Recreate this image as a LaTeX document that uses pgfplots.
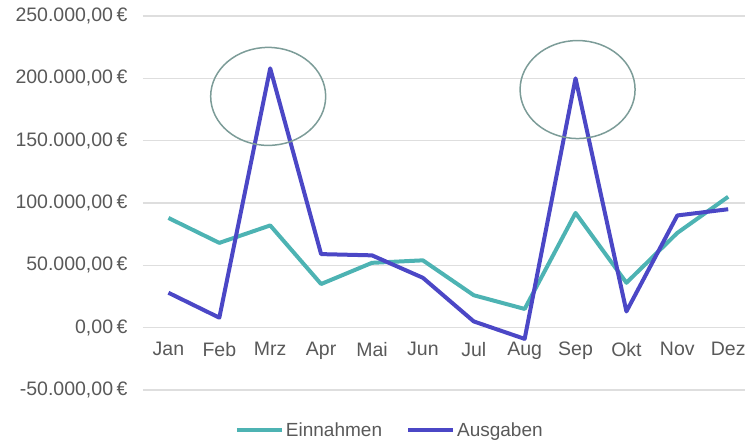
\documentclass[border=0pt]{standalone}
\usepackage{pgfplots}
\pgfplotsset{compat=1.18}
\usepackage{fontspec}
\setmainfont{Liberation Sans}
\definecolor{teal1}{HTML}{4DB3B3}
\definecolor{blue1}{HTML}{4B47C6}
\definecolor{ell}{HTML}{7C9C98}
\definecolor{txt}{HTML}{595959}
\definecolor{grd}{HTML}{DEDEDE}
\begin{document}
\begin{tikzpicture}
\begin{axis}[
  scale only axis, width=602pt, height=374pt,
  xmin=-0.5, xmax=11.33, ymin=-50000, ymax=250000,
  scaled y ticks=false,
  axis x line*=middle, axis y line*=left,
  axis line style={draw=none},
  major tick length=0pt,
  xtick={0,...,11},
  xticklabels={Jan,Feb,Mrz,Apr,Mai,Jun,Jul,Aug,Sep,Okt,Nov,Dez},
  ytick={-50000,0,50000,100000,150000,200000,250000},
  yticklabels={{-50.000,00\kern0.18em€},{0,00\kern0.18em€},{50.000,00\kern0.18em€},{100.000,00\kern0.18em€},{150.000,00\kern0.18em€},{200.000,00\kern0.18em€},{250.000,00\kern0.18em€}},
  ymajorgrids, grid style={grd, line width=1.5pt},
  tick label style={font=\fontsize{19.5}{22}\selectfont, text=txt},
  yticklabel style={xshift=-12pt},
  xticklabel style={yshift=-11pt},
  clip=true,
  legend style={at={(0.41,-0.107)}, anchor=center, draw=none, fill=none,
    legend columns=2, font=\fontsize{19}{22}\selectfont, text=txt,
    /tikz/every even column/.append style={column sep=22pt},
    legend cell align=left},
  legend image code/.code={\draw[#1] (0pt,0pt) -- (45pt,0pt);},
  every axis plot/.append style={line width=4pt, line join=round},
]
\coordinate (O) at (rel axis cs:0,0);
\addplot[teal1, mark=none] coordinates {
 (0,88000) (1,68000) (2,82000) (3,35000) (4,52000) (5,54000)
 (6,26000) (7,15000) (8,92000) (9,36000) (10,76000) (11,105000)};
\addlegendentry{Einnahmen}
\addplot[blue1, mark=none] coordinates {
 (0,28000) (1,8000) (2,208000) (3,59000) (4,58000) (5,40000)
 (6,5000) (7,-9000) (8,200000) (9,13000) (10,90000) (11,95000)};
\addlegendentry{Ausgaben}
\draw[ell, line width=1.5pt] (axis cs:1.96,185500) ellipse [x radius=1.13, y radius=39300];
\draw[ell, line width=1.5pt] (axis cs:8.04,191000) ellipse [x radius=1.13, y radius=39300];
\end{axis}
\pgfresetboundingbox
\path[use as bounding box] ([shift={(-143pt,-53pt)}]O) rectangle ([shift={(602pt,390pt)}]O);
\end{tikzpicture}
\end{document}
